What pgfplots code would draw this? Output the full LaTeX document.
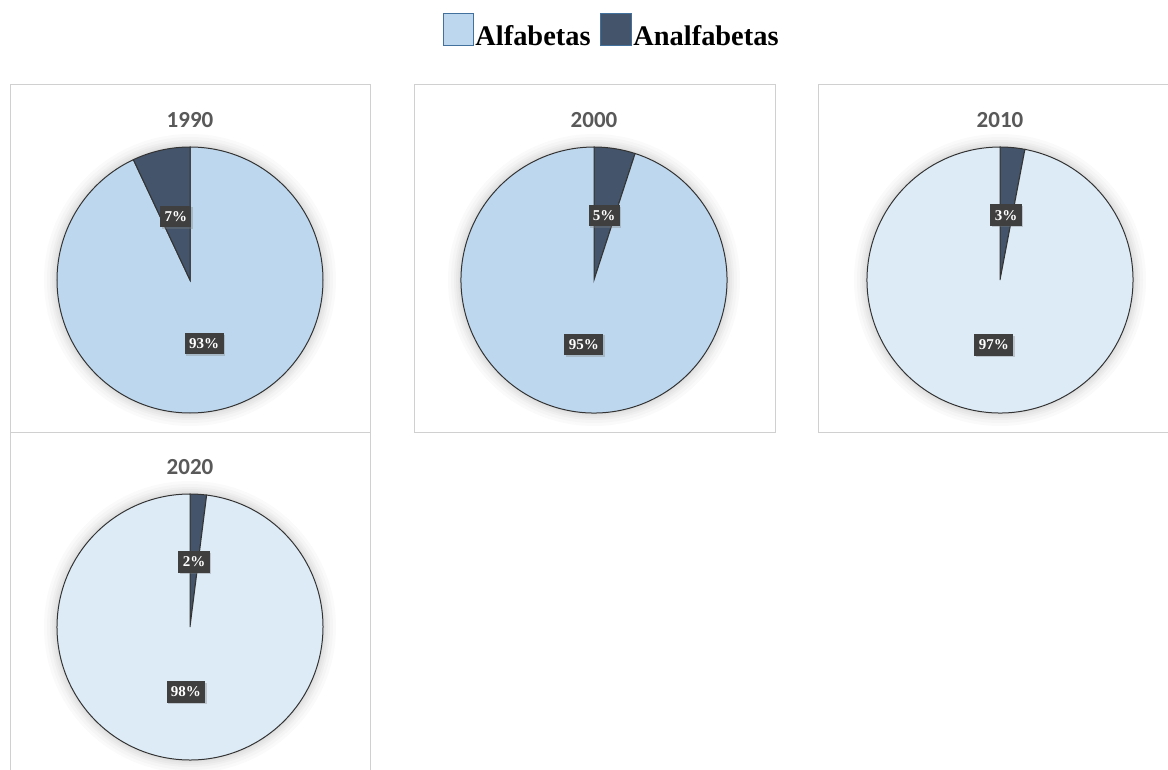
\documentclass[border=0pt]{standalone}
\usepackage{pgfplots}
\pgfplotsset{compat=1.18}
\usepackage{pgfplotstable}
\usetikzlibrary{shadows}
\usepackage{fontspec}
\setmainfont{Liberation Serif}
\newfontfamily\carlito{Carlito}
\definecolor{alfaA}{HTML}{BDD7EE}
\definecolor{alfaB}{HTML}{DDEBF7}
\definecolor{anal}{HTML}{44546A}
\definecolor{lblbg}{HTML}{3F3F3F}
\definecolor{ttl}{HTML}{595959}
\definecolor{panelframe}{HTML}{D0D0D0}
\definecolor{legframe}{HTML}{41719C}

\pgfplotstableread{
year alfa anal
1990 93 7
2000 95 5
2010 97 3
2020 98 2
}\literacy

\newcommand{\PR}{66.5pt}
\tikzset{pctlabel/.style={fill=lblbg, text=white, font=\bfseries\fontsize{7.5}{8}\selectfont,
      inner xsep=2.2pt, inner ysep=2.8pt,
      drop shadow={opacity=0.35, shadow xshift=0.8pt, shadow yshift=-0.8pt}}}
% #1 row, #2 cx, #3 cy, #4 light colour, #5 = 0: Alfabetas first clockwise, 1: Analfabetas first
\newcommand{\drawpie}[5]{%
  \pgfplotstablegetelem{#1}{year}\of\literacy \edef\Y{\pgfplotsretval}%
  \pgfplotstablegetelem{#1}{alfa}\of\literacy \edef\A{\pgfplotsretval}%
  \pgfplotstablegetelem{#1}{anal}\of\literacy \edef\B{\pgfplotsretval}%
  \ifnum#5=0
    \edef\F{\A}\edef\S{\B}\def\FC{#4}\def\SC{anal}%
  \else
    \edef\F{\B}\edef\S{\A}\def\FC{anal}\def\SC{#4}%
  \fi
  \pgfmathsetmacro\angF{3.6*\F}%
  \pgfmathsetmacro\startS{90-3.6*\F}%
  \pgfmathsetmacro\angS{3.6*\S}%
  \pgfmathsetmacro\lxF{0.49*cos(90-1.8*\F)}%
  \pgfmathsetmacro\lyF{0.49*sin(90-1.8*\F)}%
  \pgfmathsetmacro\lxS{0.49*cos(90-3.6*\F-1.8*\S)}%
  \pgfmathsetmacro\lyS{0.49*sin(90-3.6*\F-1.8*\S)}%
  \begin{axis}[
    at={(#2,#3)}, anchor=origin,
    x=\PR, y=\PR, scale only axis,
    xmin=-1, xmax=1, ymin=-1, ymax=1,
    hide axis, clip=false,
    title={\Y},
    title style={at={(0.5,1)}, anchor=base, yshift=4pt,
      font=\carlito\bfseries\fontsize{11.5}{13}\selectfont, text=ttl},
  ]
    \fill[black, opacity=0.02] (axis cs:0,0) circle[radius=73pt];
    \fill[black, opacity=0.02] (axis cs:0,0) circle[radius=71.5pt];
    \fill[black, opacity=0.025] (axis cs:0,0) circle[radius=70pt];
    \fill[black, opacity=0.025] (axis cs:0,0) circle[radius=69pt];
    \fill[black, opacity=0.025] (axis cs:0,0) circle[radius=68pt];
    \fill[black, opacity=0.025] (axis cs:0,0) circle[radius=67.3pt];
    \filldraw[fill=\FC, draw=black!80, line width=0.5pt]
      (axis cs:0,0) -- ++(90:\PR) arc[start angle=90, delta angle=-\angF, radius=\PR] -- cycle;
    \filldraw[fill=\SC, draw=black!80, line width=0.5pt]
      (axis cs:0,0) -- ++(\startS:\PR) arc[start angle=\startS, delta angle=-\angS, radius=\PR] -- cycle;
    \node[pctlabel] at (axis cs:\lxF,\lyF) {\F\%};
    \node[pctlabel] at (axis cs:\lxS,\lyS) {\S\%};
  \end{axis}%
}

\begin{document}
\begin{tikzpicture}
  \path[use as bounding box] (0,0) rectangle (584pt,-385pt);
  % panel frames
  \draw[panelframe, line width=0.5pt] (5pt,-42.5pt) rectangle (185pt,-216pt);
  \draw[panelframe, line width=0.5pt] (207pt,-42.5pt) rectangle (387.5pt,-216pt);
  \draw[panelframe, line width=0.5pt] (409pt,-42.5pt) rectangle (590pt,-216pt);
  \draw[panelframe, line width=0.5pt] (5pt,-216pt) rectangle (185pt,-390pt);
  % legend
  \filldraw[fill=alfaA, draw=legframe, line width=0.5pt] (221.5pt,-7pt) rectangle (236.5pt,-23pt);
  \node[anchor=base west, inner sep=0pt, font=\bfseries\fontsize{14.2}{16}\selectfont] at (237.5pt,-23pt) {Alfabetas};
  \filldraw[fill=anal, draw=legframe, line width=0.5pt] (300pt,-7pt) rectangle (315.5pt,-23pt);
  \node[anchor=base west, inner sep=0pt, font=\bfseries\fontsize{14.2}{16}\selectfont] at (316.5pt,-23pt) {Analfabetas};
  % pies
  \drawpie{0}{95pt}{-140pt}{alfaA}{0}
  \drawpie{1}{297pt}{-140pt}{alfaA}{1}
  \drawpie{2}{500pt}{-140pt}{alfaB}{1}
  \drawpie{3}{95pt}{-313.5pt}{alfaB}{1}
\end{tikzpicture}
\end{document}
